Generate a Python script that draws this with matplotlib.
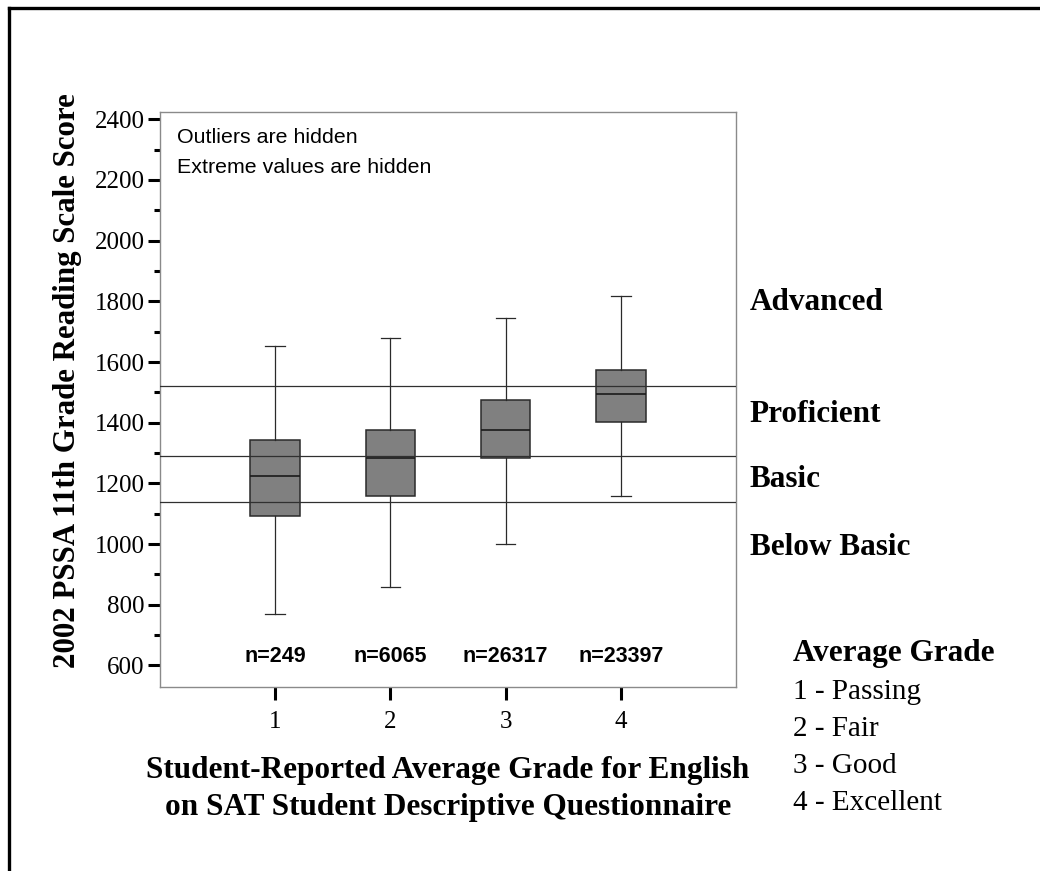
import numpy as np
import matplotlib
matplotlib.use("Agg")
import matplotlib.pyplot as plt
from matplotlib.lines import Line2D
from matplotlib.ticker import MultipleLocator

plt.rcParams["font.family"] = ["Liberation Serif", "DejaVu Serif"]

# values
grades = [1, 2, 3, 4]
whislo = [770, 857, 1001, 1159]
q1 = [1093, 1159, 1284, 1403]
med = [1225, 1285, 1375, 1495]
q3 = [1342, 1376, 1475, 1574]
whishi = [1653, 1680, 1744, 1818]
counts = [249, 6065, 26317, 23397]

cut_scores = [1521, 1291, 1138]
levels = ["Advanced", "Proficient", "Basic", "Below Basic"]
level_y = [1795, 1426, 1212, 988]
grade_names = ["1 - Passing", "2 - Fair", "3 - Good", "4 - Excellent"]

W, H = 1040, 871
fig = plt.figure(figsize=(W / 100, H / 100), dpi=100)
ax = fig.add_axes([160 / W, 1 - 687 / H, 576 / W, 575 / H])

stats = []
for i in range(len(grades)):
    stats.append(dict(whislo=whislo[i], q1=q1[i], med=med[i], q3=q3[i],
                      whishi=whishi[i], fliers=[], label=str(grades[i])))

ax.bxp(stats, positions=grades, widths=0.43, capwidths=0.17, patch_artist=True,
       showfliers=False,
       boxprops=dict(facecolor="#808080", edgecolor="#2a2a2a", linewidth=1.1),
       medianprops=dict(color="#1a1a1a", linewidth=1.2),
       whiskerprops=dict(color="#2a2a2a", linewidth=0.9),
       capprops=dict(color="#2a2a2a", linewidth=0.9))

for c in cut_scores:
    ax.axhline(c, color="#303030", linewidth=0.9, zorder=3)

ax.set_xlim(0, 5)
ax.set_ylim(529, 2424)
ax.set_xticks(grades)
ax.set_xticklabels([str(g) for g in grades])
ax.yaxis.set_major_locator(MultipleLocator(200))
ax.yaxis.set_minor_locator(MultipleLocator(100))
ax.set_yticks(np.arange(600, 2401, 200))
ax.set_yticklabels([str(v) for v in range(600, 2401, 200)])
ax.tick_params(axis="both", labelsize=18)
ax.tick_params(axis="y", which="major", length=9, width=2.2, pad=2, color="black")
ax.tick_params(axis="y", which="minor", length=4, width=2.2, color="black")
ax.tick_params(axis="x", which="major", length=9, width=2.2, pad=8, color="black")
for s in ax.spines.values():
    s.set_color("#8a8a8a")
    s.set_linewidth(1.0)

for g, n in zip(grades, counts):
    ax.text(g, 630, "n=%d" % n, ha="center", va="center", fontsize=15.5,
            fontweight="bold", family="Liberation Sans")

ax.text(0.03, 0.955, "Outliers are hidden", transform=ax.transAxes, ha="left",
        va="center", fontsize=15.4, family="Liberation Sans")
ax.text(0.03, 0.904, "Extreme values are hidden", transform=ax.transAxes, ha="left",
        va="center", fontsize=15.4, family="Liberation Sans")

tr = ax.get_yaxis_transform()
for lab, yv in zip(levels, level_y):
    ax.text(1.024, yv, lab, transform=tr, ha="left", va="center", fontsize=22.5,
            fontweight="bold", clip_on=False)

fig.text(448 / W, 1 - 770 / H, "Student-Reported Average Grade for English",
         ha="center", va="center", fontsize=22.5, fontweight="bold")
fig.text(448 / W, 1 - 807 / H, "on SAT Student Descriptive Questionnaire",
         ha="center", va="center", fontsize=22.5, fontweight="bold")
fig.text(68 / W, 1 - 381 / H, "2002 PSSA 11th Grade Reading Scale Score",
         ha="center", va="center", rotation=90, fontsize=22.2, fontweight="bold")

fig.text(793 / W, 1 - 653 / H, "Average Grade", ha="left", va="center",
         fontsize=22.5, fontweight="bold")
for k, name in enumerate(grade_names):
    fig.text(793 / W, 1 - [692, 729, 766, 803][k] / H, name, ha="left",
             va="center", fontsize=21)

# frame round the figure (only left and top edges show in the picture)
fig.add_artist(Line2D([8.5 / W, 8.5 / W], [0, 1 - 8 / H], transform=fig.transFigure,
                      color="black", linewidth=2.4))
fig.add_artist(Line2D([8.5 / W, 1], [1 - 8 / H, 1 - 8 / H], transform=fig.transFigure,
                      color="black", linewidth=2.4))

fig.savefig("out.png", dpi=100)
